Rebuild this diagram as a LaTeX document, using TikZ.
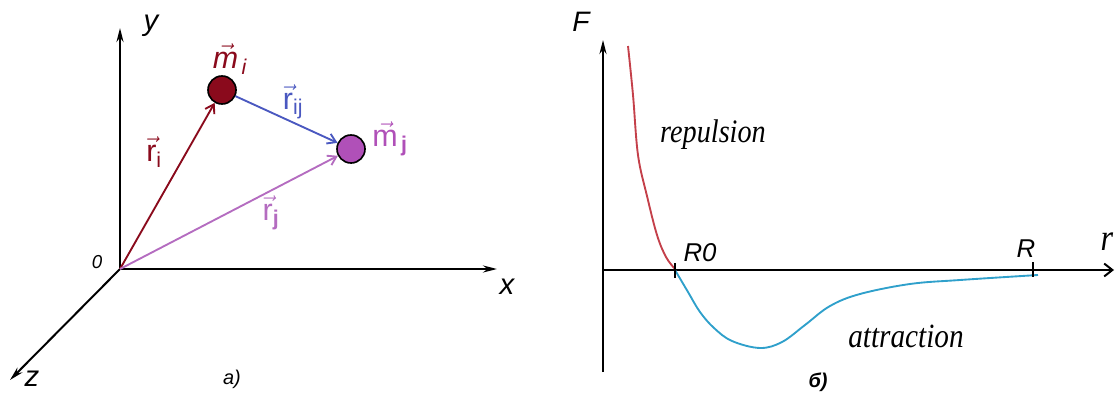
\documentclass[tikz,border=0pt]{standalone}
\usepackage{amsmath}
\usepackage{fontspec}
\setmainfont{Liberation Sans}
\newfontfamily\timesf[FakeStretch=0.86]{Liberation Serif}
\usetikzlibrary{arrows.meta}
\definecolor{massred}{HTML}{8A0A1C}
\definecolor{massviolet}{HTML}{B050B8}
\definecolor{lineviolet}{HTML}{B46CC0}
\definecolor{lineblue}{HTML}{4A58C0}
\definecolor{curvered}{HTML}{C4404A}
\definecolor{curveblue}{HTML}{2FA0CB}
\begin{document}
\begin{tikzpicture}[x=0.03cm, y=-0.03cm,
      axisline/.style={line width=1.7pt, -{Stealth[length=12pt,width=6pt]}},
      openaxis/.style={line width=1.7pt, -{Straight Barb[length=7pt,width=11pt,line width=1.7pt]}},
      vecline/.style={line width=1.6pt, -{Straight Barb[length=7pt,width=9pt]}},
      mass/.style={circle, draw=black, line width=1.4pt, minimum size=0.84cm, inner sep=0pt},
      lab/.style={font=\fontsize{25}{29}\selectfont\itshape, inner sep=0pt},
      vlab/.style={font=\fontsize{26}{30}\selectfont, inner sep=0pt},
      word/.style={font=\fontsize{28}{32}\selectfont\timesf\itshape, inner sep=0pt},
      tickmark/.style={line width=1.6pt}]
    \useasboundingbox (0,0) rectangle (1116,394);
    % a) coordinate system
    \coordinate (O) at (120,269);
    \coordinate (ytop) at (120,28);
    \coordinate (xend) at (497,269);
    \coordinate (zend) at (10,380);
    \draw[axisline] (O) -- (ytop);
    \draw[axisline] (O) -- (xend);
    \draw[axisline] (O) -- (zend);
    \node[lab] (ylab) at (151,26) {y};
    \node[lab] (xlab) at (507,287) {x};
    \node[lab] (zlab) at (32,379) {z};
    \node[lab, font=\fontsize{16}{18}\selectfont\itshape] (olab) at (97,262) {0};
    \node[lab, font=\fontsize{17}{19}\selectfont\itshape] (alab) at (232,379) {a)};
    \node[mass, fill=massred] (mi) at (222,90) {};
    \node[mass, fill=massviolet] (mj) at (351,149) {};
    \draw[vecline, massred] (O) -- (mi);
    \draw[vecline, lineviolet] (O) -- (mj);
    \draw[vecline, lineblue] (mi) -- (mj);
    \node[vlab, text=massred] (milab) at (230,59) {$\vec{\textit{m}}_{\,\textit{i}}$};
    \node[vlab, text=massviolet] (mjlab) at (390,139) {$\vec{\text{m}}_{\,\textbf{j}}$};
    \node[vlab, text=massred] (rilab) at (154,152) {$\vec{\text{r}}_{\text{i}}$};
    \node[vlab, text=lineviolet] (rjlab) at (271,213) {$\vec{\text{r}}_{\textbf{j}}$};
    \node[vlab, text=lineblue] (rijlab) at (293,102) {$\vec{\text{r}}_{\text{ij}}$};
    % b) force curve
    \coordinate (Fo) at (603,372);
    \coordinate (Ftop) at (603,40);
    \coordinate (ro) at (603,270);
    \coordinate (rend) at (1114,270);
    \draw[axisline] (Fo) -- (Ftop);
    \draw[openaxis] (ro) -- (rend);
    \node[lab, font=\fontsize{24}{28}\selectfont\itshape] (Flab) at (581,22) {F};
    \node[word, font=\fontsize{32}{36}\selectfont\timesf\itshape] (rlab) at (1107,242) {r};
    \draw[curvered, line width=1.6pt] plot[smooth, tension=0.6] coordinates {(628,46) (633,95) (638,155) (647,196) (657,235) (666,257) (675,269)};
    \draw[curveblue, line width=1.6pt] plot[smooth, tension=0.6] coordinates {(675,270) (688,292) (700,312) (714,328) (732,341) (760,348) (782,342) (805,325) (830,306) (860,294) (910,284) (960,280) (1038,275)};
    \coordinate (R0) at (675,270);
    \coordinate (R) at (1033,270);
    \draw[tickmark] ([yshift=0.2cm]R0) -- ([yshift=-0.24cm]R0);
    \draw[tickmark] ([yshift=0.24cm]R) -- ([yshift=-0.2cm]R);
    \node[lab, font=\fontsize{22}{26}\selectfont\itshape] (R0lab) at (700,253) {R0};
    \node[lab, font=\fontsize{22}{26}\selectfont\itshape] (Rlab) at (1026,249) {R};
    \node[word] (rep) at (713,135) {repulsion};
    \node[word, font=\fontsize{29}{33}\selectfont\timesf\itshape] (att) at (906,336) {attraction};
    \node[lab, font=\fontsize{17}{19}\selectfont\bfseries\itshape] (blab) at (818,382) {б)};
  \end{tikzpicture}
\end{document}
